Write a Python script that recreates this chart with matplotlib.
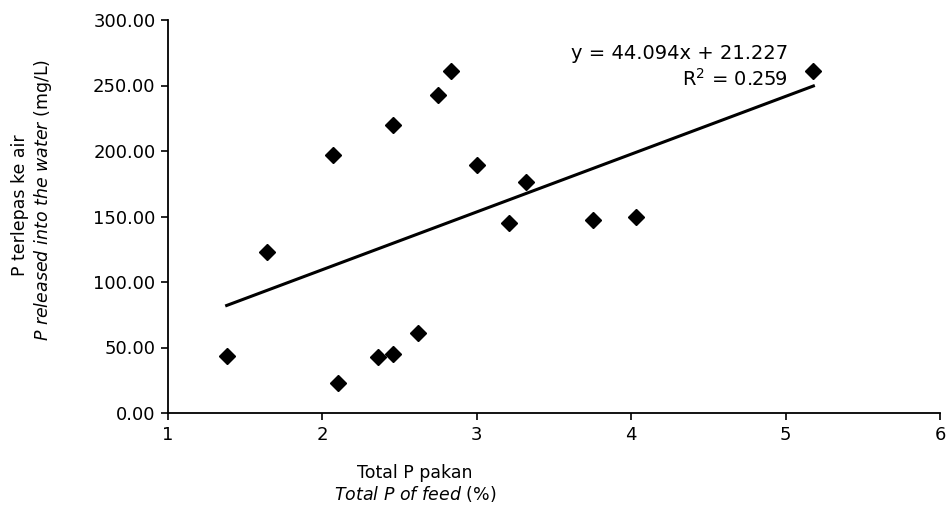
import numpy as np
import matplotlib.pyplot as plt

# Total P of feed (%) and P released into the water (mg/L)
total_p_feed = [1.38, 1.64, 2.07, 2.10, 2.36, 2.46, 2.62, 2.46, 2.75, 2.83,
                3.00, 3.32, 3.21, 3.75, 4.03, 5.18]
p_released = [43.5, 123.0, 197.0, 23.0, 43.0, 45.0, 61.0, 220.0, 243.0, 261.0,
              189.0, 176.0, 145.0, 147.0, 150.0, 261.0]

slope = 44.094
intercept = 21.227
r2 = 0.259

xticks_values = [1, 2, 3, 4, 5, 6]
yticks_values = [0, 50, 100, 150, 200, 250, 300]

plt.rcParams["font.family"] = ["DejaVu Sans"]
plt.rcParams["mathtext.fontset"] = "custom"
plt.rcParams["mathtext.rm"] = "DejaVu Sans"
plt.rcParams["mathtext.it"] = "DejaVu Sans:italic"

fig = plt.figure(figsize=(9.5, 5.2), dpi=100)
ax = fig.add_axes([168 / 950, 1 - 413 / 520, (940 - 168) / 950, (413 - 20) / 520])

ax.plot(total_p_feed, p_released, linestyle="none", marker="D", markersize=8,
        color="black", zorder=3)

x_fit = np.array([min(total_p_feed), max(total_p_feed)])
ax.plot(x_fit, slope * x_fit + intercept, color="black", linewidth=2.2)

ax.text(0.803, 0.916, f"y = {slope:.3f}x + {intercept:.3f}", transform=ax.transAxes,
        ha="right", va="center", fontsize=14)
ax.text(0.803, 0.85, f"R$^2$ = {r2:.3f}", transform=ax.transAxes,
        ha="right", va="center", fontsize=14)

ax.set_xlim(1, 6)
ax.set_ylim(0, 300)
ax.set_xticks(xticks_values)
ax.set_xticklabels([str(x) for x in xticks_values])
ax.set_yticks(yticks_values)
ax.set_yticklabels([f"{y:.2f}" for y in yticks_values])
ax.tick_params(direction="out", length=5, width=1.2, labelsize=13, pad=4)

for side in ["top", "right"]:
    ax.spines[side].set_visible(False)
for side in ["left", "bottom"]:
    ax.spines[side].set_linewidth(1.3)

# axis titles, two lines each
fig.text(20 / 950, 1 - 205 / 520, "P terlepas ke air", rotation=90,
         ha="center", va="center", fontsize=12.5)
fig.text(43 / 950, 1 - 200 / 520,
         r"$\mathit{P\ released\ into\ the\ water}$ (mg/L)", rotation=90,
         ha="center", va="center", fontsize=12.5)
fig.text(415 / 950, 1 - 473 / 520, "Total P pakan",
         ha="center", va="center", fontsize=12.5)
fig.text(415 / 950, 1 - 494 / 520, r"$\mathit{Total\ P\ of\ feed}$ (%)",
         ha="center", va="center", fontsize=12.5)

fig.savefig("out.png", dpi=100)
